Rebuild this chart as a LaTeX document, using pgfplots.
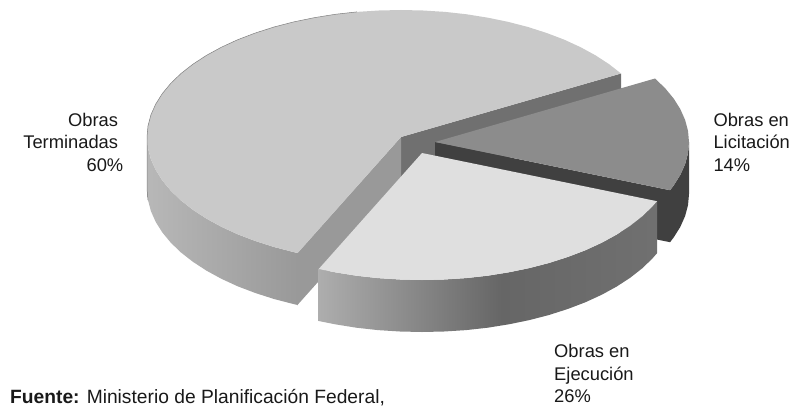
\documentclass[border=0pt]{standalone}
\usepackage{pgfplots}
\pgfplotsset{compat=1.18}
\usepackage{fontspec}
\setmainfont{Liberation Sans}
\pgfdeclarehorizontalshading{sideA}{100bp}{rgb(0bp)=(.72,.72,.72); rgb(25bp)=(.72,.72,.72); rgb(75bp)=(.60,.60,.60); rgb(100bp)=(.60,.60,.60)}
\pgfdeclarehorizontalshading{sideB}{100bp}{rgb(0bp)=(.68,.68,.68); rgb(25bp)=(.68,.68,.68); rgb(52bp)=(.40,.40,.40); rgb(75bp)=(.44,.44,.44); rgb(100bp)=(.44,.44,.44)}
\definecolor{topA}{gray}{.79}
\definecolor{topB}{gray}{.875}
\definecolor{topC}{gray}{.55}
\definecolor{wallA}{gray}{.60}
\definecolor{wallB}{gray}{.44}
\definecolor{wallC}{gray}{.25}
\definecolor{edge}{gray}{.50}
\tikzset{
  lab/.style={anchor=base west, inner sep=0pt, font=\fontsize{18.4pt}{22pt}\selectfont, text=black!90},
  labr/.style={anchor=base east, inner sep=0pt, font=\fontsize{18.4pt}{22pt}\selectfont, text=black!90},
  src/.style={anchor=base west, inner sep=0pt, font=\fontsize{19.3pt}{22pt}\selectfont, text=black!90},
}
\begin{document}
\begin{tikzpicture}[x=1bp,y=1bp]
\path[use as bounding box] (0,0) rectangle (803,406);
\begin{axis}[
  at={(0,0)}, anchor=south west,
  width=803bp, height=406bp, scale only axis,
  xmin=0, xmax=803, ymin=0, ymax=406, y dir=reverse,
  hide axis, clip=false,
]
% Obras Terminadas, 60% : walls
\addplot[draw=none, fill=wallB] coordinates {(401,137)(621,73.5)(621,125.5)(401,189)};
\addplot[draw=none, fill=wallA] coordinates {(401,137)(297,253.5)(297,305.5)(401,189)};
\addplot[draw=none, shading=sideA] coordinates {
(147,137)(148,148.1)(150.9,159.1)(155.7,169.9)(162.3,180.4)(170.8,190.7)(181,200.5)(192.9,209.8)(206.4,218.6)(221.4,226.8)(237.7,234.3)(255.3,241)(274,247)(293.7,252.1)(297.7,253)
(297.7,305)(293.7,304.1)(274,299)(255.3,293)(237.7,286.3)(221.4,278.8)(206.4,270.6)(192.9,261.8)(181,252.5)(170.8,242.7)(162.3,232.4)(155.7,221.9)(150.9,211.1)(148,200.1)(147,189)};
\addplot[draw=none, fill=topA] coordinates {
(401,137)(621,73.5)(609.1,64.2)(595.6,55.4)(580.6,47.2)(564.3,39.7)(546.7,33)(528,27)(508.3,21.9)(487.9,17.7)(466.7,14.3)(445.1,11.9)(423.1,10.5)(401,10)
(378.9,10.5)(356.9,11.9)(335.3,14.3)(314.1,17.7)(293.7,21.9)(274,27)(255.3,33)(237.7,39.7)(221.4,47.2)(206.4,55.4)(192.9,64.2)(181,73.5)(170.8,83.3)(162.3,93.6)(155.7,104.1)(150.9,114.9)(148,125.9)(147,137)
(148,148.1)(150.9,159.1)(155.7,169.9)(162.3,180.4)(170.8,190.7)(181,200.5)(192.9,209.8)(206.4,218.6)(221.4,226.8)(237.7,234.3)(255.3,241)(274,247)(293.7,252.1)(297.7,253)};
% thin dark rim along the back-left silhouette
\addplot[draw=edge, line width=.5bp] coordinates {
(356.9,11.9)(335.3,14.3)(314.1,17.7)(293.7,21.9)(274,27)(255.3,33)(237.7,39.7)(221.4,47.2)(206.4,55.4)(192.9,64.2)(181,73.5)(170.8,83.3)(162.3,93.6)(155.7,104.1)(150.9,114.9)(148,125.9)(147,137)(147,189)(148,200.1)};
% Obras en Licitacion, 14%
\addplot[draw=none, fill=wallC] coordinates {(435,142)(670,190.2)(670,242.2)(435,194)};
\addplot[draw=none, fill=wallC] coordinates {(689,142)(688,153.1)(685.1,164.1)(680.3,174.9)(673.7,185.4)(670,190.2)(670,242.2)(673.7,237.4)(680.3,226.9)(685.1,216.1)(688,205.1)(689,194)};
\addplot[draw=none, fill=topC] coordinates {(435,142)(655,78.5)(665.2,88.3)(673.7,98.6)(680.3,109.1)(685.1,119.9)(688,130.9)(689,142)(688,153.1)(685.1,164.1)(680.3,174.9)(673.7,185.4)(670,190.2)};
% Obras en Ejecucion, 26%
\addplot[draw=none, shading=sideB] coordinates {
(657,201.2)(652.2,206.7)(642,216.5)(630.1,225.8)(616.6,234.6)(601.6,242.8)(585.3,250.3)(567.7,257)(549,263)(529.3,268.1)(508.9,272.3)(487.7,275.7)(466.1,278.1)(444.1,279.5)(422,280)(399.9,279.5)(377.9,278.1)(356.3,275.7)(335.1,272.3)(318.7,269)
(318.7,321)(335.1,324.3)(356.3,327.7)(377.9,330.1)(399.9,331.5)(422,332)(444.1,331.5)(466.1,330.1)(487.7,327.7)(508.9,324.3)(529.3,320.1)(549,315)(567.7,309)(585.3,302.3)(601.6,294.8)(616.6,286.6)(630.1,277.8)(642,268.5)(652.2,258.7)(657,253.2)};
\addplot[draw=none, fill=topB] coordinates {(422,153)(657,201.2)(652.2,206.7)(642,216.5)(630.1,225.8)(616.6,234.6)(601.6,242.8)(585.3,250.3)(567.7,257)(549,263)(529.3,268.1)(508.9,272.3)(487.7,275.7)(466.1,278.1)(444.1,279.5)(422,280)(399.9,279.5)(377.9,278.1)(356.3,275.7)(335.1,272.3)(318.7,269)};
% labels
\node[labr] at (axis cs:118.3,126) {Obras};
\node[labr] at (axis cs:118.3,148) {Terminadas};
\node[labr] at (axis cs:123.5,171) {60\%};
\node[lab] at (axis cs:713.3,126) {Obras en};
\node[lab] at (axis cs:713.3,148) {Licitación};
\node[lab] at (axis cs:713.3,171) {14\%};
\node[lab] at (axis cs:554,357.5) {Obras en};
\node[lab] at (axis cs:554,380) {Ejecución};
\node[lab] at (axis cs:554,402) {26\%};
\node[src] at (axis cs:10,403.5) {\textbf{Fuente:} Ministerio de Planificación Federal,};
\end{axis}
\end{tikzpicture}
\end{document}
